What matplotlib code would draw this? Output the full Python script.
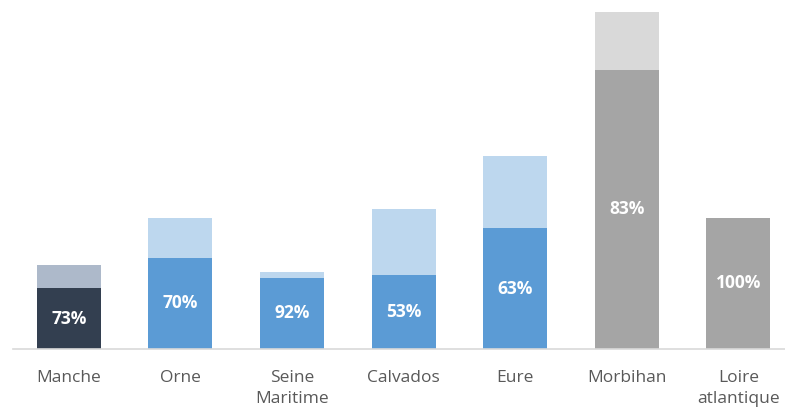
import matplotlib.pyplot as plt

categories = ["Manche", "Orne", "Seine\nMaritime", "Calvados", "Eure", "Morbihan", "Loire\natlantique"]
base = [61, 91, 71.3, 74, 120.7, 279, 131]
extra = [23, 40, 6, 65.7, 72.3, 58, 0]
pct_labels = ["73%", "70%", "92%", "53%", "63%", "83%", "100%"]

dark_colors = ["#333f50", "#5b9bd5", "#5b9bd5", "#5b9bd5", "#5b9bd5", "#a5a5a5", "#a5a5a5"]
light_colors = ["#adb9ca", "#bdd7ee", "#bdd7ee", "#bdd7ee", "#bdd7ee", "#d9d9d9", "#d9d9d9"]

plt.rcParams['font.family'] = ['Open Sans', 'DejaVu Sans']

fig = plt.figure(figsize=(7.85, 4.12), dpi=100)
ax = fig.add_axes([13 / 785, 63 / 412, 772 / 785, 337 / 412])

x = range(len(categories))
ax.bar(x, base, width=0.573, color=dark_colors)
ax.bar(x, extra, bottom=base, width=0.573, color=light_colors)

for i, lab in enumerate(pct_labels):
    ax.text(i, base[i] / 2, lab, ha="center", va="center", color="white",
            fontsize=12.5, fontweight="bold")

ax.set_xlim(-0.5, -0.5 + 772 / 111.6)
ax.set_ylim(0, 337)
ax.set_xticks(list(x))
ax.set_xticklabels(categories, fontsize=12.5, color="#595959", linespacing=1.45)
ax.tick_params(axis="x", length=0, pad=15)
ax.set_yticks([])
for s in ["top", "right", "left"]:
    ax.spines[s].set_visible(False)
ax.spines["bottom"].set_color("#d9d9d9")
ax.spines["bottom"].set_linewidth(1.2)

fig.savefig("out.png", dpi=100)
